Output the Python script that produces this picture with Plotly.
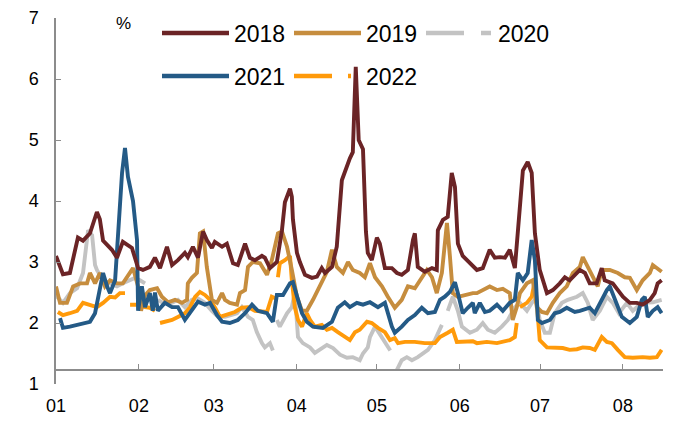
import plotly.graph_objects as go

# ---- data: x = day of year (0 = 1 Jan), y = % ----
month_days = [0, 31, 59, 90, 120, 151, 181, 212]
month_labels = ["01", "02", "03", "04", "05", "06", "07", "08"]

d2018 = [0, 2.6, 5.2, 8.2, 10.1, 12.7, 15.3, 16.4, 17.6, 20.9, 22.8, 25.0, 28.4, 30.7, 32.5, 35.1, 37.0, 38.9,
         41.5, 43.4, 45.6, 48.2, 49.3, 51.2, 53.1, 55.0, 56.4, 58.3, 59.4, 62.1, 63.9, 66.2, 68.0, 70.7, 72.5,
         74.4, 77.0, 78.1, 80.0, 82.6, 84.5, 85.6, 87.5, 88.2, 88.6, 90.1, 91.2, 93.1, 95.7, 97.6, 99.4, 100.6,
         103.2, 105.0, 106.9, 108.8, 109.9, 111.0, 112.1, 113.2, 114.8, 115.9, 116.6, 118.1, 120.0, 121.1,
         123.0, 125.6, 127.5, 129.3, 131.6, 133.5, 134.2, 135.3, 137.9, 140.6, 142.4, 142.8, 144.7, 146.5,
         148.0, 149.2, 150.3, 152.1, 154.8, 157.4, 159.6, 162.2, 164.1, 166.0, 167.9, 169.7, 171.6, 173.5,
         174.6, 176.4, 177.9, 179.1, 180.9, 183.6, 185.8, 188.4, 190.3, 192.1, 195.9, 197.8, 199.6, 202.2,
         204.1, 205.2, 208.2, 212.0, 214.6, 217.2, 219.4, 222.1, 223.9, 225.0, 226.5]
v2018 = [3.1, 2.8, 2.82, 3.4, 3.35, 3.47, 3.82, 3.7, 3.35, 3.2, 3.07, 3.33, 3.23, 2.9, 2.87, 2.92, 3.07, 2.9,
         3.25, 2.95, 3.03, 3.15, 3.08, 3.25, 3.07, 3.5, 3.36, 3.23, 3.33, 3.25, 3.3, 2.98, 2.95, 3.3, 3.07,
         3.03, 3.1, 3.07, 2.9, 3.0, 3.52, 3.98, 4.2, 4.07, 3.7, 3.15, 3.0, 2.79, 2.74, 2.76, 2.9, 2.82,
         2.92, 3.25, 4.34, 4.6, 4.7, 4.8, 6.2, 5.0, 4.85, 3.5, 3.15, 3.03, 3.4, 3.3,
         2.9, 2.9, 2.82, 2.79, 2.87, 3.36, 3.47, 2.92, 2.84, 2.9, 2.87, 3.52, 3.69, 3.74,
         4.46, 4.23, 3.3, 3.1, 2.98, 2.87, 2.9, 3.2, 3.07, 3.08, 3.07, 3.2, 2.9, 3.9,
         4.5, 4.64, 4.46, 3.47, 2.87, 2.49, 2.54, 2.65, 2.75, 2.7, 2.87, 2.82, 2.65, 2.65,
         2.9, 2.7, 2.65, 2.43, 2.33, 2.33, 2.3, 2.38, 2.49, 2.65, 2.7]

d2019 = [0, 1.5, 4.1, 6.4, 9.0, 11.6, 12.7, 14.6, 16.4, 18.3, 20.2, 22.8, 25.0, 27.7, 28.8, 30.7, 31.8, 33.3,
         35.1, 37.8, 39.6, 41.9, 44.5, 47.1, 49.0, 49.3, 50.8, 52.7, 53.8, 55.0, 56.4, 58.3, 60.2, 62.1, 63.2,
         65.0, 67.7, 68.8, 70.7, 71.8, 73.6, 76.3, 78.9, 80.7, 83.0, 84.5, 86.4, 88.2, 90.1, 92.0, 93.8, 96.1,
         98.7, 101.3, 103.2, 105.0, 107.3, 109.2, 111.0, 113.6, 115.5, 117.4, 119.3, 121.9, 124.1, 126.7,
         129.3, 131.6, 134.2, 136.1, 138.7, 140.6, 142.4, 144.3, 146.2, 147.3, 148.4, 150.3, 152.9, 155.9,
         157.4, 159.6, 162.2, 164.9, 167.1, 169.7, 170.8, 172.3, 173.5, 176.1, 178.3, 179.8, 181.7, 183.6,
         185.8, 188.4, 191.0, 193.3, 195.9, 197.0, 198.9, 200.7, 202.6, 204.1, 207.1, 210.1, 212.7, 214.6,
         217.2, 219.4, 222.1, 223.2, 225.0, 226.5]
v2019 = [2.6, 2.33, 2.33, 2.6, 2.65, 2.65, 2.82, 2.65, 2.82, 2.6, 2.7, 2.65, 2.65, 2.82, 2.9, 2.6, 2.2, 2.45,
         2.54, 2.57, 2.43, 2.34, 2.38, 2.33, 2.38, 2.65, 2.74, 2.82, 3.47, 3.5, 2.92, 2.38, 2.33, 2.49, 2.38,
         2.33, 2.3, 2.49, 2.54, 2.92, 3.0, 2.98, 2.79, 3.03, 3.47, 3.5, 3.25, 2.87, 2.43, 2.2, 2.2, 2.38,
         2.6, 2.84, 3.2, 2.92, 2.82, 3.0, 2.87, 2.82, 2.75, 2.98, 2.75, 2.6, 2.43, 2.25,
         2.38, 2.6, 2.57, 2.7, 2.87, 2.75, 2.49, 2.82, 3.64, 3.1, 2.49, 2.43, 2.46, 2.49,
         2.49, 2.54, 2.6, 2.54, 2.56, 2.49, 2.05, 2.26, 2.49, 2.65, 2.7, 2.26, 2.18, 2.16,
         2.33, 2.49, 2.6, 2.82, 2.92, 3.08, 2.92, 2.75, 2.6, 2.87, 2.87, 2.82, 2.75, 2.74,
         2.54, 2.7, 2.82, 2.95, 2.9, 2.84]

d2020 = [0, 2.6, 5.2, 7.9, 10.1, 12.0, 13.5, 14.6, 15.3, 17.6, 20.2, 22.8, 25.0, 27.7, 29.5, 31.4, 33.3, 35.5,
         38.1, 40.0, 43.4, 45.6, 48.2, 50.8, 53.1, 55.7, 58.3, 60.6, 63.2, 65.8, 67.7, 69.5, 71.8, 73.6, 75.1,
         77.0, 78.1, 80.0, 81.1, 81.9, 82.6, 83.7, 86.4, 88.2, 89.3, 90.5, 92.3, 95.0, 96.8, 99.4, 101.3, 103.6,
         106.2, 108.8, 111.0, 113.6, 114.8, 116.6, 117.4, 119.3, 121.9, 124.1, 125.0, 126.3, 127.5, 129.3,
         131.2, 133.1, 135.3, 137.2, 139.1, 141.7, 144.3, 145.4, 146.5, 148.4, 150.3, 151.8, 154.8, 157.4,
         159.6, 161.5, 164.1, 166.7, 169.0, 171.6, 173.5, 176.1, 177.9, 179.5, 180.9, 182.8, 184.7, 186.5,
         189.2, 191.4, 194.8, 197.0, 198.9, 200.7, 203.4, 206.0, 208.2, 210.5, 213.5, 215.7, 219.1, 220.9,
         223.2, 226.5]
v2020 = [2.45, 2.33, 2.49, 2.57, 2.82, 3.52, 3.44, 2.95, 2.87, 2.7, 2.65, 2.6, 2.65, 2.7, 2.74, 2.7, 2.65, None,
         2.38, 2.33, 2.33, 2.38, 2.26, 2.38, 2.4, 2.33, 2.2, 2.1, 2.1, 2.13, 2.16, 2.26, 2.1, 2.05, 1.85,
         1.67, 1.6, 1.67, 1.55, None, 2.05, 1.94, 2.16, 2.26, 2.5, 1.77, 1.67, 1.6, 1.51, 1.59, 1.64, 1.59,
         1.48, 1.43, 1.44, 1.39, 1.5, 1.6, 1.77, 1.94, 1.77, 1.6, 1.55, None, 1.23, 1.39,
         1.44, 1.39, 1.44, 1.5, 1.56, 1.72, 1.97, None, 2.2, 2.43, 2.2, 1.94, 1.84, 1.89,
         2.0, 1.89, 1.84, 1.94, 2.05, 2.26, 2.33, 2.2, 2.33, 2.4, 2.05, 1.84, 1.84, 2.16,
         2.33, 2.38, 2.43, 2.49, 2.33, 2.05, 2.2, 2.43, 2.33, 2.16, 2.33, 2.2, 2.33, 2.33,
         2.34, 2.38]

d2021 = [1.5, 2.6, 5.2, 7.9, 10.1, 12.7, 14.6, 16.4, 17.6, 19.1, 20.2, 22.1, 23.2, 24.7, 25.8, 26.9, 28.8, 30.3,
         30.7, 32.1, 33.3, 35.1, 36.2, 37.0, 38.1, 40.7, 43.4, 45.6, 48.2, 49.3, 52.0, 53.1, 55.7, 57.6, 60.2,
         62.1, 65.0, 68.0, 70.7, 73.3, 75.5, 78.9, 81.1, 82.6, 84.9, 87.5, 88.6, 90.1, 92.0, 93.8, 96.1, 99.8,
         103.2, 105.4, 108.0, 109.9, 112.5, 114.8, 117.4, 120.4, 123.0, 125.6, 126.7, 129.3, 131.6, 134.2,
         136.8, 139.1, 141.7, 143.6, 145.4, 147.3, 149.2, 150.3, 152.1, 154.0, 155.9, 156.6, 158.5, 160.4,
         162.2, 164.9, 167.1, 169.7, 171.6, 172.7, 174.6, 176.4, 177.9, 179.1, 180.2, 181.7, 184.7, 186.5,
         188.4, 191.0, 194.0, 195.9, 199.6, 201.5, 203.4, 206.0, 207.1, 209.0, 211.6, 214.6, 217.2, 219.1,
         220.2, 221.3, 223.2, 225.0, 226.5]
v2021 = [2.08, 1.92, 1.94, 1.97, 2.0, 2.02, 2.16, 2.54, 2.82, 2.6, 2.49, 2.7, 3.36, 4.46, 4.87, 4.4, 4.0, 3.36,
         2.2, 2.6, 2.26, 2.49, 2.2, 2.5, 2.2, 2.33, 2.26, 2.26, 2.05, 2.12, 2.3, 2.35, 2.3, 2.33, 2.13,
         2.02, 2.0, 2.05, 2.16, 2.3, 2.2, 2.16, 2.02, 2.46, 2.46, 2.65, 2.67, 2.43, 2.16, 2.02, 1.94, 1.92,
         2.02, 2.25, 2.34, 2.26, 2.33, 2.3, 2.34, 2.26, 2.33, 1.94, 1.84, 1.94, 2.05, 2.13,
         2.25, 2.16, 2.18, 2.38, 2.43, 2.51, 2.67, 2.49, 2.16, 2.25, 2.33, 2.16, 2.33, 2.18,
         2.2, 2.3, 2.2, 2.33, 2.38, 2.82, 2.7, 2.82, 3.36, 3.03, 2.05, 2.0, 2.05, 2.16,
         2.18, 2.25, 2.18, 2.2, 2.25, 2.16, 2.33, 2.54, 2.6, 2.38, 2.1, 2.0, 2.1, 2.38,
         2.43, 2.1, 2.2, 2.26, 2.16]

d2022 = [0.7, 2.6, 5.2, 7.9, 10.1, 12.7, 15.3, 17.6, 20.2, 22.1, 23.9, 25.8, 26.8, 27.7, 30.3, 33.3, 35.1, 37.0,
         37.9, 38.9, 40.7, 43.4, 45.6, 48.2, 50.1, 52.0, 53.8, 55.7, 57.6, 59.4, 61.3, 63.9, 66.9, 69.5, 71.8,
         74.4, 77.0, 78.9, 80.7, 82.2, 82.5, 83.0, 83.7, 85.6, 87.5, 88.2, 89.3, 90.5, 92.0, 93.8, 95.0, 96.8,
         99.4, 101.3, 103.2, 105.4, 108.0, 109.9, 111.8, 113.6, 116.3, 118.1, 120.4, 123.0, 124.9, 126.7,
         127.9, 130.5, 134.2, 137.9, 141.7, 143.6, 146.5, 148.4, 149.9, 152.9, 155.9, 157.4, 161.1, 164.9,
         167.1, 169.7, 171.6, 172.3, 172.9, 173.5, 176.1, 177.9, 179.1, 180.2, 180.9, 183.6, 187.3, 189.5,
         192.1, 194.8, 197.0, 199.6, 201.5, 204.1, 206.0, 207.9, 210.1, 212.7, 215.7, 219.4, 222.1, 224.7,
         226.5]
v2022 = [2.18, 2.13, 2.16, 2.2, 2.33, 2.3, 2.26, 2.33, 2.43, 2.42, 2.49, 2.49, None, 2.3, 2.3, 2.26, 2.25, 2.2,
         None, 2.0, 2.02, 2.05, 2.1, 2.16, 2.26, 2.43, 2.51, 2.46, 2.38, 2.26, 2.1, 2.13, 2.18, 2.25, 2.26,
         2.2, 2.18, 2.18, 2.43, 2.4, None, 2.75, 2.98, 3.03, 3.1, 2.7, 2.26, 2.05, 1.94, 2.16, 2.05, 1.94,
         1.97, 1.89, 1.92, 1.85, 1.77, 1.72, 1.85, 1.89, 2.02, 2.0, 1.92, 1.85, 1.72, 1.75,
         1.67, 1.69, 1.69, 1.67, 1.67, 1.77, 1.84, 1.89, 1.69, 1.69, 1.7, 1.67, 1.69, 1.67,
         1.69, 1.72, 1.77, 2.0, None, 2.26, 2.33, 2.43, 2.7, 2.1, 1.72, 1.6, 1.6, 1.59,
         1.56, 1.57, 1.6, 1.59, 1.56, 1.77, 1.69, 1.67, 1.56, 1.44, 1.43, 1.44, 1.43, 1.44,
         1.56]

series = [
    ("2018", d2018, v2018, "#6B2426"),
    ("2019", d2019, v2019, "#C68D3E"),
    ("2020", d2020, v2020, "#C3C3C3"),
    ("2021", d2021, v2021, "#245A86"),
    ("2022", d2022, v2022, "#FF9A0A"),
]
legend_dash = {"2018": "solid", "2019": "solid", "2020": "38px,17px,10px",
               "2021": "solid", "2022": "38px,16px,3px"}
legend_of = {"2018": "legend", "2019": "legend", "2020": "legend",
             "2021": "legend2", "2022": "legend2"}

FONT = "Liberation Sans, Arial, sans-serif"
LW = 3.9
PAGE_OFF = 8  # default body margin of the html page

fig = go.Figure()
for name in ["2020", "2022", "2019", "2021", "2018"]:
    s = [t for t in series if t[0] == name][0]
    fig.add_trace(go.Scatter(x=s[1], y=s[2], mode="lines", name=s[0], showlegend=False,
                             line=dict(color=s[3], width=LW), connectgaps=False,
                             hoverinfo="skip"))
for name, _, _, col in series:
    fig.add_trace(go.Scatter(x=[None], y=[None], mode="lines", name=name,
                             line=dict(color=col, width=4.5, dash=legend_dash[name]),
                             legend=legend_of[name]))

legend_common = dict(orientation="h", bgcolor="rgba(0,0,0,0)", font=dict(family=FONT, size=23, color="#000"),
                     itemwidth=67, entrywidth=50, entrywidthmode="pixels", traceorder="normal",
                     xanchor="left", yanchor="middle", itemclick=False, itemdoubleclick=False)

fig.update_layout(
    width=700 - PAGE_OFF, height=427 - PAGE_OFF,
    margin=dict(l=56 - PAGE_OFF, r=37, t=18 - PAGE_OFF, b=43, autoexpand=False),
    paper_bgcolor="white", plot_bgcolor="white",
    font=dict(family=FONT, size=18, color="#000"),
    legend=dict(legend_common, x=(157 - 56) / 607, y=(384 - 33) / 366),
    legend2=dict(legend_common, x=(157 - 56) / 607, y=(384 - 76) / 366),
    xaxis=dict(range=[0, 227], tickvals=month_days, ticktext=month_labels, automargin=False,
               showgrid=False, zeroline=False, showline=True, linecolor="#8C8C8C", linewidth=1.5,
               ticks="inside", ticklen=5, tickcolor="#8C8C8C", tickwidth=1.2,
               anchor="free", position=(384 - 370) / 366, ticklabelstandoff=20,
               tickfont=dict(family=FONT, size=18, color="#000")),
    yaxis=dict(range=[1, 7], dtick=1, showgrid=False, zeroline=False, showline=True, automargin=False,
               linecolor="#8C8C8C", linewidth=1.5, ticks="inside", ticklen=5, tickcolor="#8C8C8C",
               tickwidth=1.2, ticklabelstandoff=12, tickfont=dict(family=FONT, size=18, color="#000")),
    annotations=[dict(text="%", x=(123 - 56) / 607, y=(384 - 23) / 366, xref="paper", yref="paper",
                      xanchor="center", yanchor="middle",
                      showarrow=False, font=dict(family=FONT, size=17, color="#000"))],
)

fig.write_html("out.html")
